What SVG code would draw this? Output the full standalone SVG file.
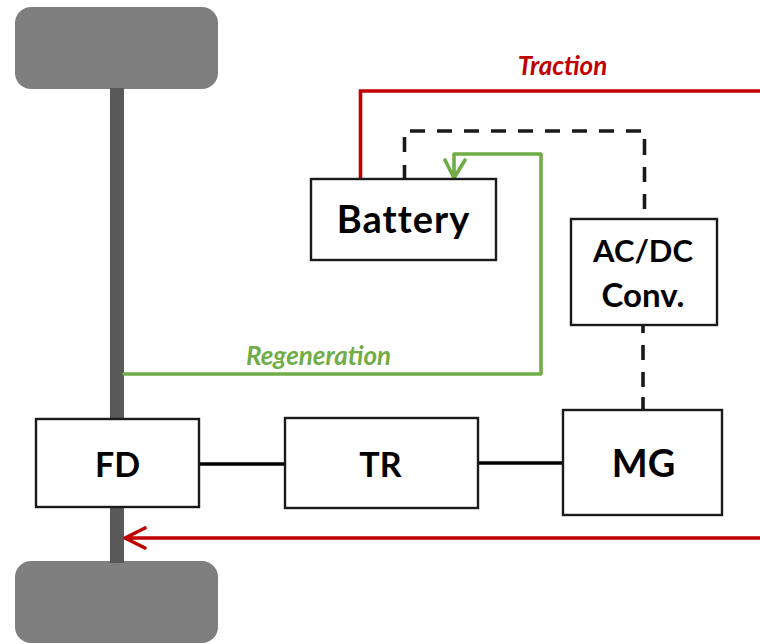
<svg xmlns="http://www.w3.org/2000/svg" width="760" height="644" viewBox="0 0 760 644">
<style>
.box{fill:#fff;stroke:#1a1a1a;stroke-width:2.4}
.wheel{fill:#7f7f7f}
.t{font-family:Lato,"Open Sans",sans-serif;font-weight:700;fill:#000;text-anchor:middle}
.l{font-family:Lato,"Open Sans",sans-serif;font-weight:700;font-style:italic;font-size:26px;text-anchor:middle}
.c{fill:none;stroke-width:3.6}
.d{fill:none;stroke:#1a1a1a;stroke-width:3.6}
</style>
<rect width="760" height="644" fill="#fff"/>
<g id="wheel-top"><rect class="wheel" x="15" y="7" width="203" height="82" rx="16"/></g>
<g id="wheel-bottom"><rect class="wheel" x="15" y="561" width="203" height="82" rx="16"/></g>
<g id="axle"><rect x="110" y="88" width="14" height="475" fill="#595959"/></g>
<g id="connectors">
<path class="c" stroke="#c00000" d="M360.500 179V91H760"/>
<path class="d" d="M404.500 179V165M404.500 152V137M410 131H425M437 131H452M464 131H479M491 131H506M518 131H533M545 131H560M572 131H587M599 131H614M626 131H641M644.500 139V155M644.500 167V182M644.500 194V209"/>
<path class="c" stroke="#70ad47" stroke-linecap="round" stroke-linejoin="round" d="M124 374H541V154H454V178M445 160L454 178L465 160"/>
<path class="d" d="M643 326V333M643 345V360M643 372V387M643 397V410"/>
<path class="c" stroke="#000" d="M199 464H285M478 463H563"/>
<path class="c" stroke="#c00000" stroke-linecap="round" stroke-linejoin="round" d="M760 538H126M145 528L125 538L145 548"/>
</g>
<text class="l" x="562.500" y="75" fill="#c00000">Traction</text>
<text class="l" x="318.500" y="365" fill="#70ad47">Regeneration</text>
<g id="battery"><rect class="box" x="311" y="179" width="185" height="81"/><text class="t" x="403.500" y="233" font-size="38" letter-spacing="1">Battery</text></g>
<g id="acdc"><rect class="box" x="571" y="219" width="146" height="106"/><text class="t" x="643" y="262" font-size="31">AC/DC</text><text class="t" x="643" y="307" font-size="33">Conv.</text></g>
<g id="fd"><rect class="box" x="36" y="419" width="163" height="88"/><text class="t" x="117.500" y="477" font-size="34">FD</text></g>
<g id="tr"><rect class="box" x="285" y="418" width="193" height="90"/><text class="t" x="380.500" y="477" font-size="34">TR</text></g>
<g id="mg"><rect class="box" x="563" y="410" width="159" height="105"/><text class="t" x="643.500" y="477" font-size="38">MG</text></g>
</svg>
